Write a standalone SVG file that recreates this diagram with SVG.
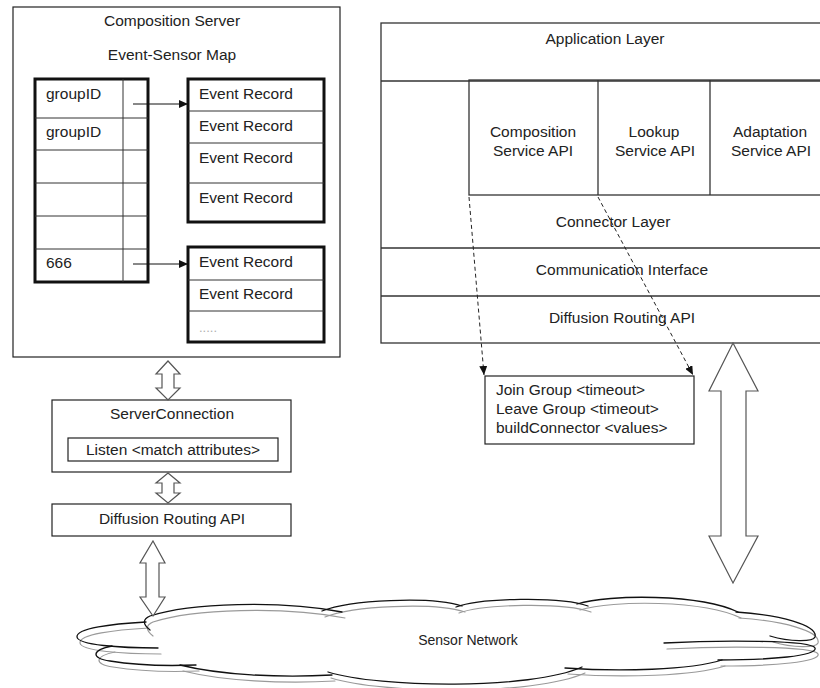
<svg xmlns="http://www.w3.org/2000/svg" width="820" height="688" viewBox="0 0 820 688">
  <style>
    text { font-family: "Liberation Sans", Arial, sans-serif; font-size: 15.5px; fill: #222; }
    .mid { text-anchor: middle; }
    .box { fill: #ffffff; stroke: #222; stroke-width: 1.2; }
    .thick { fill: #ffffff; stroke: #111; stroke-width: 3; }
    .rule { stroke: #333; stroke-width: 1; fill: none; }
    .layer { stroke: #333; stroke-width: 1.3; fill: none; }
    .ptr { stroke: #111; stroke-width: 1; fill: none; }
    .dash { stroke: #222; stroke-width: 1; stroke-dasharray: 4 3; fill: none; }
    .block { fill: #ffffff; stroke: #555; stroke-width: 1.2; stroke-linejoin: miter; }
    .cloud-ink { fill: none; stroke: #111; stroke-width: 1.3; stroke-linecap: round; }
    .cloud-shade { fill: none; stroke: #9a9a9a; stroke-width: 1.2; stroke-linecap: round; }
  </style>
  <defs>
    <marker id="tip" markerUnits="userSpaceOnUse" markerWidth="9" markerHeight="8" refX="9" refY="4" orient="auto">
      <path d="M0,0 L9,4 L0,8 Z" fill="#111"/>
    </marker>
    <g id="cloud-strokes">
      <!-- upper left lobe -->
      <path d="M146,622 C112,624 76,628 77,637 C78,645 120,648 158,648"/>
      <!-- lower left lobe -->
      <path d="M112,646 C92,650 90,658 110,661 C140,666 170,666 196,665"/>
      <path d="M180,665 C220,675 280,678 332,675"/>
      <!-- top arcs -->
      <path d="M150,630 C142,624 143,619 150,616 C190,603 280,600 342,612"/>
      <path d="M322,611 C350,600 430,596 462,606"/>
      <path d="M456,607 C480,598 560,596 588,606"/>
      <path d="M577,604 C610,594 700,594 738,612"/>
      <!-- right lobes -->
      <path d="M736,612 C780,615 818,625 815,637 C813,642 790,642 770,636"/>
      <path d="M664,643 C720,640 812,640 815,648 C818,656 770,660 718,660"/>
      <!-- bottom arcs -->
      <path d="M722,660 C690,670 620,672 565,668"/>
      <path d="M582,667 C530,690 380,688 328,672"/>
    </g>
  </defs>

  <!-- Composition server with its event-sensor map -->
  <g id="composition-server">
    <rect class="box" x="13" y="7" width="327" height="350"/>
    <text class="mid" x="172" y="26">Composition Server</text>
    <text class="mid" x="172" y="60">Event-Sensor Map</text>
  </g>

  <g id="group-table">
    <rect class="thick" x="35" y="79" width="113" height="203"/>
    <line class="rule" x1="123" y1="79" x2="123" y2="282"/>
    <line class="rule" x1="35" y1="118" x2="148" y2="118"/>
    <line class="rule" x1="35" y1="150" x2="148" y2="150"/>
    <line class="rule" x1="35" y1="183" x2="148" y2="183"/>
    <line class="rule" x1="35" y1="216" x2="148" y2="216"/>
    <line class="rule" x1="35" y1="249" x2="148" y2="249"/>
    <text x="46" y="99">groupID</text>
    <text x="46" y="137">groupID</text>
    <text x="46" y="268">666</text>
  </g>

  <g id="event-records-1">
    <rect class="thick" x="188" y="79" width="136" height="143"/>
    <line class="rule" x1="188" y1="111" x2="324" y2="111"/>
    <line class="rule" x1="188" y1="143" x2="324" y2="143"/>
    <line class="rule" x1="188" y1="183" x2="324" y2="183"/>
    <text x="199" y="99">Event Record</text>
    <text x="199" y="131">Event Record</text>
    <text x="199" y="163">Event Record</text>
    <text x="199" y="203">Event Record</text>
  </g>

  <g id="event-records-2">
    <rect class="thick" x="188" y="247" width="136" height="95"/>
    <line class="rule" x1="188" y1="280" x2="324" y2="280"/>
    <line class="rule" x1="188" y1="311" x2="324" y2="311"/>
    <text x="199" y="267">Event Record</text>
    <text x="199" y="299">Event Record</text>
    <text x="199" y="332" style="fill:#b0b0b0; font-size:13px">.....</text>
  </g>

  <!-- Server connection stack -->
  <g id="server-connection">
    <rect class="box" x="52" y="400" width="239" height="72"/>
    <text class="mid" x="172" y="419">ServerConnection</text>
    <rect class="box" x="68" y="438" width="210" height="23"/>
    <text class="mid" x="173" y="455">Listen &lt;match attributes&gt;</text>
  </g>

  <g id="diffusion-routing-left">
    <rect class="box" x="52" y="504" width="239" height="32"/>
    <text class="mid" x="172" y="524">Diffusion Routing API</text>
  </g>

  <!-- Layered middleware stack -->
  <g id="middleware-stack">
    <rect class="layer" x="381" y="23" width="450" height="320" fill="#fff"/>
    <line class="layer" x1="381" y1="81" x2="820" y2="81"/>
    <text class="mid" x="605" y="44">Application Layer</text>
    <line class="layer" x1="381" y1="248" x2="820" y2="248"/>
    <text class="mid" x="613" y="227">Connector Layer</text>
    <line class="layer" x1="381" y1="296" x2="820" y2="296"/>
    <text class="mid" x="622" y="275">Communication Interface</text>
    <text class="mid" x="622" y="323">Diffusion Routing API</text>
  </g>

  <g id="service-apis">
    <rect class="layer" x="469" y="80" width="360" height="115" fill="#fff"/>
    <line class="layer" x1="598" y1="80" x2="598" y2="195"/>
    <line class="layer" x1="710" y1="80" x2="710" y2="195"/>
    <text class="mid" x="533" y="137">Composition</text>
    <text class="mid" x="533" y="156">Service API</text>
    <text class="mid" x="654" y="137">Lookup</text>
    <text class="mid" x="655" y="156">Service API</text>
    <text class="mid" x="770" y="137">Adaptation</text>
    <text class="mid" x="771" y="156">Service API</text>
  </g>

  <g id="group-operations">
    <rect class="box" x="485" y="376" width="209" height="68"/>
    <text x="496" y="395">Join Group &lt;timeout&gt;</text>
    <text x="496" y="414">Leave Group &lt;timeout&gt;</text>
    <text x="496" y="433">buildConnector &lt;values&gt;</text>
  </g>

  <!-- Sensor network cloud: ink outline plus a soft offset shade -->
  <g id="sensor-network">
    <use href="#cloud-strokes" class="cloud-shade" transform="translate(3,6)"/>
    <use href="#cloud-strokes" class="cloud-ink"/>
    <text class="mid" x="468" y="645" style="font-size:14px">Sensor Network</text>
  </g>

  <g id="connectors">
    <!-- map pointers -->
    <line class="ptr" x1="133" y1="104" x2="188" y2="104" marker-end="url(#tip)"/>
    <line class="ptr" x1="133" y1="264" x2="188" y2="264" marker-end="url(#tip)"/>
    <!-- API calls into the group operations -->
    <line class="dash" x1="469" y1="197" x2="484" y2="375" marker-end="url(#tip)"/>
    <line class="dash" x1="598" y1="197" x2="693" y2="375" marker-end="url(#tip)"/>
    <!-- two-way block arrows -->
    <polygon class="block" points="168,361 180,374 174,374 174,388 180,388 168,400 156,388 162,388 162,374 156,374"/>
    <polygon class="block" points="168,473 180,483 174,483 174,493 180,493 168,503 156,493 162,493 162,483 156,483"/>
    <polygon class="block" points="153,541 165,563 159,563 159,597 165,597 153,616 140,597 146,597 146,563 140,563"/>
    <polygon class="block" points="733,343 758,391 746,391 746,536 758,536 733,583 709,536 721,536 721,391 709,391"/>
  </g>
</svg>
